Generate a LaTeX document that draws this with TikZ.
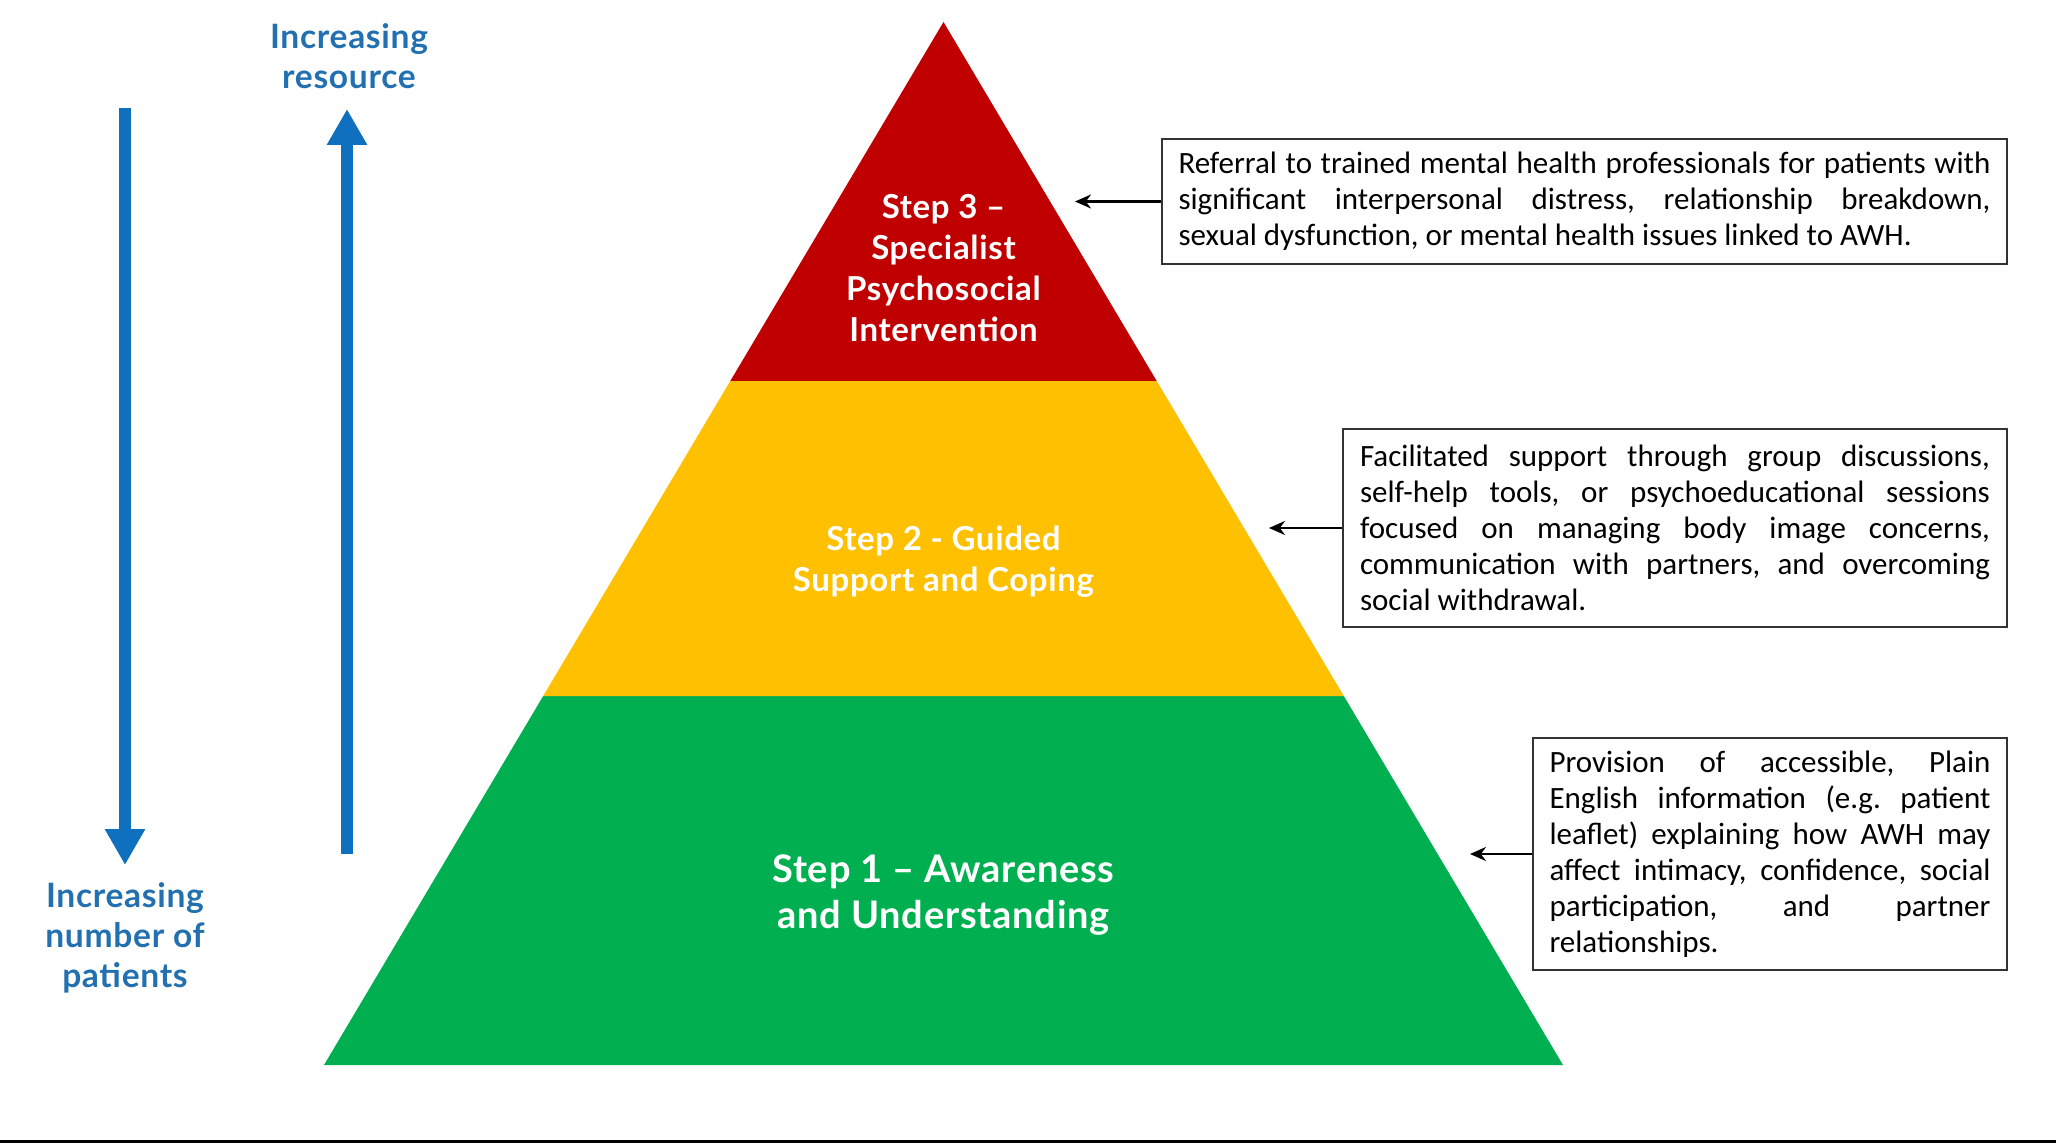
\documentclass[tikz,border=0pt]{standalone}
\usepackage{fontspec}
\setmainfont{Carlito}
\newfontfamily\labfont{Lato}[LetterSpace=2]
\usetikzlibrary{arrows.meta}
\definecolor{pred}{HTML}{C00000}
\definecolor{pyel}{HTML}{FFC000}
\definecolor{pgrn}{HTML}{00B050}
\definecolor{pblue}{RGB}{16,112,192}
\definecolor{ltext}{RGB}{34,112,176}
\begin{document}
\frenchspacing
\begin{tikzpicture}[x=0.5pt,y=-0.5pt,
  desc/.style={draw=black!80, line width=0.8pt, align=justify, inner sep=0pt,
    font=\fontsize{15.5}{18}\selectfont},
  steptext/.style={text=white, align=center, font=\labfont\bfseries\fontsize{16.5}{20.5}\selectfont},
  bluelab/.style={text=ltext, align=center, font=\labfont\bfseries\fontsize{16.8}{20}\selectfont},
  ptr/.style={-{Stealth[length=8pt,width=7pt]}, line width=1.2pt},
  bigarrow/.style={draw=pblue, line width=6pt, -{Triangle[length=18pt,width=19pt]}}]
\useasboundingbox (0,0) rectangle (2056,1144);

% pyramid
\coordinate (apex) at (943.5,22);
\coordinate (bl) at (324,1065);
\coordinate (br) at (1563,1065);
\coordinate (g1) at (543.2,696);
\coordinate (g2) at (1343.8,696);
\coordinate (r1) at (730.3,381);
\coordinate (r2) at (1156.7,381);
\fill[pgrn] (bl) -- (br) -- (g2) -- (g1) -- cycle;
\fill[pyel] (g1) -- (g2) -- (r2) -- (r1) -- cycle;
\fill[pred] (r1) -- (r2) -- (apex) -- cycle;

\node[steptext] (s3) at (943.5,268) {Step 3 –\\Specialist\\Psychosocial\\Intervention};
\node[steptext] (s2) at (943.5,561.5) {Step 2 - Guided\\Support and Coping};
\node[steptext, font=\labfont\bfseries\fontsize{19}{23}\selectfont] (s1) at (943.5,895) {Step 1 – Awareness\\and Understanding};

% description boxes
\node[desc, text width=406pt, minimum width=422.5pt, minimum height=62.5pt] (b3) at (1584.5,201.5)
 {Referral to trained mental health professionals for patients with\linebreak
  significant interpersonal distress, relationship breakdown,\linebreak
  sexual dysfunction, or mental health issues linked to AWH.};
\node[desc, text width=315pt, minimum width=332pt, minimum height=99pt] (b2) at (1675,528)
 {Facilitated support through group discussions,\linebreak
  self-help tools, or psychoeducational sessions\linebreak
  focused on managing body image concerns,\linebreak
  communication with partners, and overcoming\linebreak
  social withdrawal.};
\node[desc, text width=220.5pt, minimum width=237pt, minimum height=116pt] (b1) at (1770,854)
 {Provision of accessible, Plain\linebreak
  English information (e.g. patient\linebreak
  leaflet) explaining how AWH may\linebreak
  affect intimacy, confidence, social\linebreak
  participation, and partner\linebreak
  relationships.};

\coordinate (t3) at (1075,201.5);
\coordinate (t2) at (1269,528);
\coordinate (t1) at (1470,854);
\draw[ptr] (b3.west) -- (t3);
\draw[ptr] (b2.west) -- (t2);
\draw[ptr] (b1.west) -- (t1);

% blue arrows and labels
\coordinate (dtop) at (125,108);
\coordinate (dbot) at (125,865);
\coordinate (ubot) at (347,854);
\coordinate (utop) at (347,109);
\draw[bigarrow] (dtop) -- (dbot);
\draw[bigarrow] (ubot) -- (utop);
\node[bluelab] (lres) at (349,56.5) {Increasing\\resource};
\node[bluelab] (lpat) at (125,937.5) {Increasing\\number of\\patients};

% bottom rule
\coordinate (ruleL) at (0,1141);
\coordinate (ruleR) at (2056,1141);
\draw[line width=1.5pt] (ruleL) -- (ruleR);
\end{tikzpicture}
\end{document}
